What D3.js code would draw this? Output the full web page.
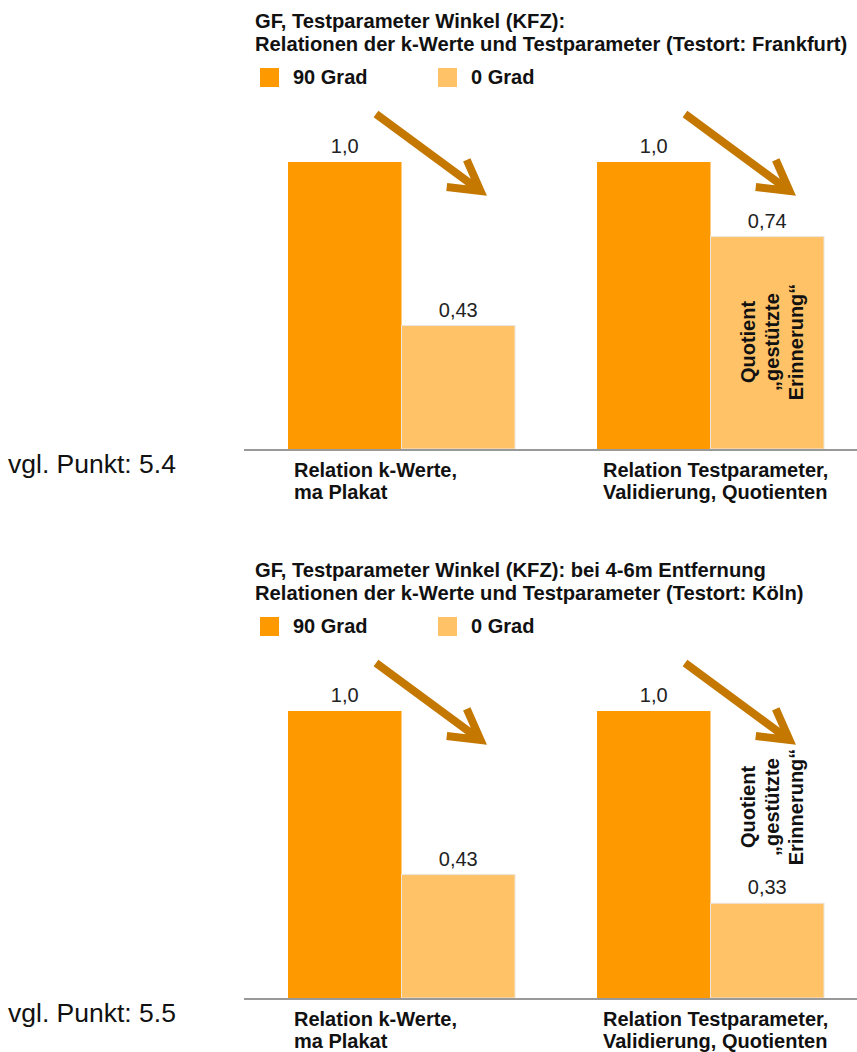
<!DOCTYPE html>
<html>
<head>
<meta charset="utf-8">
<script src="https://cdn.jsdelivr.net/npm/d3@7"></script>
<style>
  html, body { margin: 0; padding: 0; background: #fff; }
  svg { display: block; font-family: "Liberation Sans", Arial, sans-serif; }
</style>
</head>
<body>
<svg id="chart" width="857" height="1052"></svg>
<script>
// Series and categories
const series = ["90 Grad", "0 Grad"];
const categories = [["Relation k-Werte,", "ma Plakat"], ["Relation Testparameter,", "Validierung, Quotienten"]];
const frankfurtValues = [[1.0, 0.43], [1.0, 0.74]];
const koelnValues = [[1.0, 0.43], [1.0, 0.33]];
const valueLabels = v => v === 1 ? "1,0" : d3.format(".2f")(v).replace(".", ",");
const frankfurtTitle = ["GF, Testparameter Winkel (KFZ):", "Relationen der k-Werte und Testparameter (Testort: Frankfurt)"];
const koelnTitle = ["GF, Testparameter Winkel (KFZ): bei 4-6m Entfernung", "Relationen der k-Werte und Testparameter (Testort: Köln)"];
const noteLabels = ["vgl. Punkt: 5.4", "vgl. Punkt: 5.5"];
const quotientNote = ["Quotient", "\u201Egestützte", "Erinnerung\u201C"];

const colors = ["#FF9900", "#FFC266"];
const arrowColor = "#C47800";

const svg = d3.select("#chart");

function panel(top, title, values, note, noteCenter) {
  const g = svg.append("g").attr("transform", `translate(0,${top})`);
  const baseY = 449, plotTop = 162;

  // title
  title.forEach((t, i) => {
    g.append("text").attr("x", 255).attr("y", 28 + i * 22.5)
      .attr("font-weight", "bold").attr("font-size", 20.2).attr("fill", "#111")
      .text(t);
  });

  // legend
  const legX = [260, 438];
  series.forEach((s, i) => {
    g.append("rect").attr("x", legX[i]).attr("y", 68).attr("width", 19).attr("height", 19).attr("fill", colors[i]);
    g.append("text").attr("x", legX[i] + 33).attr("y", 84)
      .attr("font-weight", "bold").attr("font-size", 20).attr("fill", "#111").text(s);
  });

  const x1 = d3.scaleBand().domain(d3.range(series.length)).range([0, 227]);
  const y = d3.scaleLinear().domain([0, 1]).range([baseY, plotTop]);
  const x0 = d3.scaleOrdinal().domain(d3.range(categories.length)).range([288, 597]);

  categories.forEach((cat, ci) => {
    const gg = g.append("g").attr("transform", `translate(${x0(ci)},0)`);
    values[ci].forEach((v, si) => {
      gg.append("rect").attr("x", x1(si)).attr("y", y(v))
        .attr("width", x1.bandwidth()).attr("height", baseY - y(v))
        .attr("fill", colors[si]).attr("stroke", si === 1 ? "#ece4da" : "none").attr("stroke-width", 1);
      gg.append("text").attr("x", x1(si) + x1.bandwidth() / 2).attr("y", y(v) - 9)
        .attr("text-anchor", "middle").attr("font-size", 20).attr("fill", "#222")
        .text(valueLabels(v));
    });

    // downward trend arrow
    const sx = x1(0) + 88, sy = 114, ex = x1(1) + 79, ey = 191;
    const ang = Math.atan2(ey - sy, ex - sx);
    const L = 34, spread = 0.52;
    const a1 = ang + Math.PI - spread, a2 = ang + Math.PI + spread;
    gg.append("path")
      .attr("d", `M${sx},${sy}L${ex},${ey}M${ex + L * Math.cos(a1)},${ey + L * Math.sin(a1)}L${ex},${ey}L${ex + L * Math.cos(a2)},${ey + L * Math.sin(a2)}`)
      .attr("fill", "none").attr("stroke", arrowColor).attr("stroke-width", 8)
      .attr("stroke-linejoin", "miter").attr("stroke-linecap", "butt");

    // category label
    cat.forEach((line, li) => {
      g.append("text").attr("x", x0(ci) + 6).attr("y", 477 + li * 21.5)
        .attr("font-weight", "bold").attr("font-size", 20).attr("fill", "#111").text(line);
    });
  });

  // rotated note inside the second group
  const nt = g.append("text").attr("transform", `translate(779,${noteCenter}) rotate(-90)`)
    .attr("text-anchor", "middle").attr("font-weight", "bold").attr("font-size", 20).attr("fill", "#111");
  quotientNote.forEach((l, i) => {
    nt.append("tspan").attr("x", 0).attr("y", (i - 1) * 24).text(l);
  });

  // axis baseline
  g.append("line").attr("x1", 244).attr("x2", 857).attr("y1", baseY + 1).attr("y2", baseY + 1)
    .attr("stroke", "#999").attr("stroke-width", 2);

  g.append("text").attr("x", 8).attr("y", 473).attr("font-size", 26.5).attr("fill", "#111").text(note);
}

panel(0, frankfurtTitle, frankfurtValues, noteLabels[0], 342);
panel(549, koelnTitle, koelnValues, noteLabels[1], 258);
</script>
</body>
</html>
